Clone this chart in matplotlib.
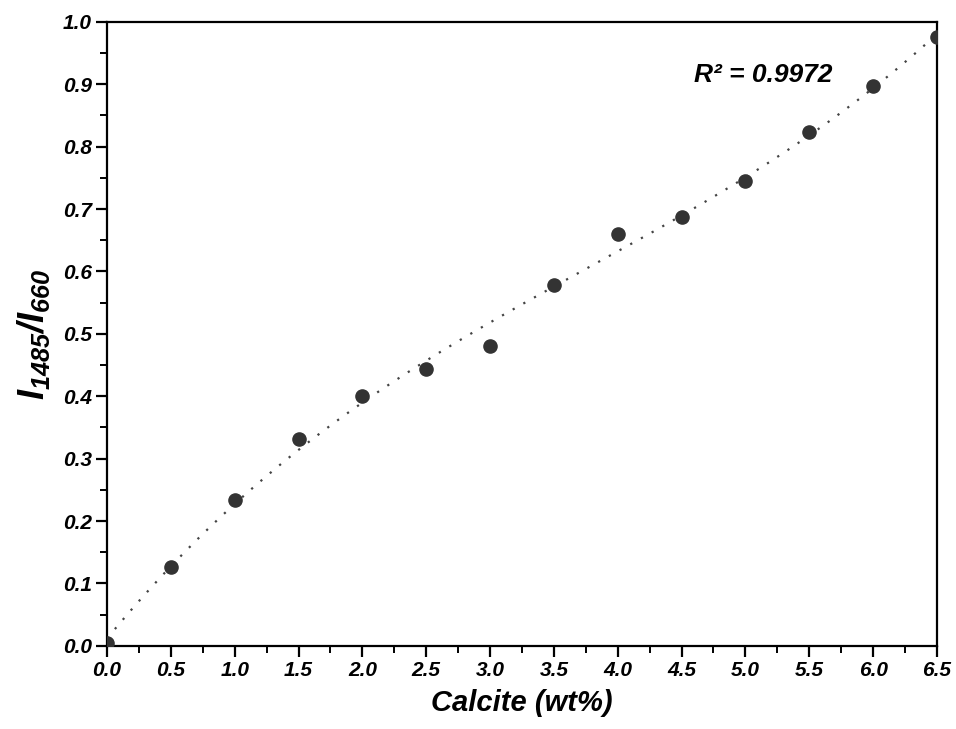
import numpy as np
import matplotlib
matplotlib.use("Agg")
import matplotlib.pyplot as plt
from matplotlib.ticker import MultipleLocator, FormatStrFormatter

# data
calcite = [0.0, 0.5, 1.0, 1.5, 2.0, 2.5, 3.0, 3.5, 4.0, 4.5, 5.0, 5.5, 6.0, 6.5]
ratio = [0.005, 0.127, 0.233, 0.332, 0.400, 0.443, 0.481, 0.578, 0.660,
         0.688, 0.745, 0.823, 0.897, 0.975]
r2_label = "R² = 0.9972"

plt.rcParams["font.family"] = ["Liberation Sans", "DejaVu Sans"]
plt.rcParams["font.weight"] = "bold"
plt.rcParams["font.style"] = "italic"
plt.rcParams["axes.labelweight"] = "bold"
plt.rcParams["mathtext.fontset"] = "custom"
plt.rcParams["mathtext.rm"] = "Liberation Sans:bold:italic"
plt.rcParams["mathtext.it"] = "Liberation Sans:bold:italic"
plt.rcParams["mathtext.bf"] = "Liberation Sans:bold:italic"

fig = plt.figure(figsize=(9.56, 7.29), dpi=100)
ax = fig.add_axes([0.112, 0.114, 0.868, 0.856])

# cubic polynomial trendline
coef = np.polyfit(calcite, ratio, 3)
xs = np.linspace(0, 6.5, 300)
ax.plot(xs, np.polyval(coef, xs), linestyle=(0, (1, 4.5)), color="#444444", lw=1.6)
ax.scatter(calcite, ratio, s=90, color="#333333", zorder=3)

ax.set_xlim(0, 6.5)
ax.set_ylim(0, 1.0)
ax.xaxis.set_major_locator(MultipleLocator(0.5))
ax.xaxis.set_minor_locator(MultipleLocator(0.25))
ax.yaxis.set_major_locator(MultipleLocator(0.1))
ax.yaxis.set_minor_locator(MultipleLocator(0.05))
ax.xaxis.set_major_formatter(FormatStrFormatter("%.1f"))
ax.yaxis.set_major_formatter(FormatStrFormatter("%.1f"))

for s in ax.spines.values():
    s.set_linewidth(1.6)
ax.tick_params(which="major", direction="out", length=8, width=1.6, labelsize=15, pad=3)
ax.tick_params(which="minor", direction="out", length=5, width=1.4)

ax.set_xlabel("Calcite (wt%)", fontsize=21, labelpad=6)
ax.set_ylabel("$I_{1485}/I_{660}$", fontsize=26, labelpad=8)

ax.text(4.6, 0.915, r2_label, fontsize=19, va="center", ha="left")

fig.savefig("out.png", dpi=100)
